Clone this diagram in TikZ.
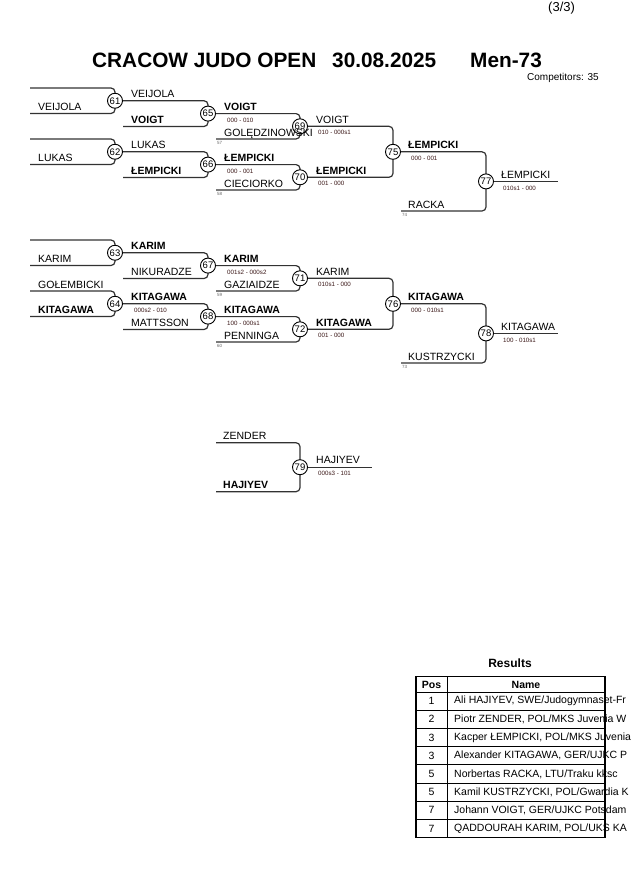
\documentclass[tikz,border=0pt]{standalone}
\usepackage{fontspec}
\setmainfont{Liberation Sans}
\usetikzlibrary{backgrounds}
\definecolor{scorecol}{RGB}{60,25,25}
\definecolor{linecol}{RGB}{50,50,50}
\begin{document}
\begin{tikzpicture}[x=1pt,y=-1pt,
  bk/.style={draw=linecol, line width=1.2pt, rounded corners=4pt},
  mc/.style={circle, draw=black, line width=0.9pt, fill=white, minimum size=15pt, inner sep=0pt, font=\fontsize{9.5}{10}\selectfont},
  nmn/.style={anchor=base west, inner sep=0pt, font=\fontsize{10.5}{12}\selectfont},
  nmb/.style={anchor=base west, inner sep=0pt, font=\fontsize{10.5}{12}\selectfont\bfseries},
  sc/.style={anchor=west, inner sep=0pt, font=\fontsize{6.2}{7}\selectfont, text=scorecol},
  rf/.style={anchor=north west, inner sep=0pt, font=\fontsize{4.5}{5}\selectfont, text=black!60},
  ttl/.style={anchor=base west, inner sep=0pt, font=\fontsize{20.8}{24}\selectfont\bfseries},
  tcell/.style={inner sep=0pt, font=\fontsize{10.5}{12}\selectfont},
  thead/.style={inner sep=0pt, font=\fontsize{10.5}{12}\selectfont\bfseries},
  tline/.style={draw=black, line width=0.8pt},
  tborder/.style={draw=black, line width=1.6pt}
]
\useasboundingbox (0,0) rectangle (630,891);

% ---------- header ----------
\node[anchor=base west, inner sep=0pt, font=\fontsize{13}{15}\selectfont] (page) at (548,12) {(3/3)};
\node[ttl] (title) at (92,67) {CRACOW JUDO OPEN};
\node[ttl] (date) at (332,67) {30.08.2025};
\node[ttl] (cat) at (470,67) {Men-73};
\node[anchor=base west, inner sep=0pt, font=\fontsize{10}{12}\selectfont] (comp) at (527,81) {Competitors: 35};

% ---------- bracket 1 ----------
\coordinate (t61) at (30,88);
\coordinate (b61) at (30,113.5);
\node[mc] (m61) at (115,100.75) {61};
\coordinate (t62) at (30,139);
\coordinate (b62) at (30,164.5);
\node[mc] (m62) at (115,151.75) {62};
\coordinate (b65) at (123,126.5);
\node[mc] (m65) at (208,113.6) {65};
\coordinate (b66) at (123,177.5);
\node[mc] (m66) at (208,164.6) {66};
\coordinate (b69) at (216,139);
\node[mc] (m69) at (300,126.3) {69};
\coordinate (b70) at (216,190);
\node[mc] (m70) at (300,177.3) {70};
\node[mc] (m75) at (393,151.8) {75};
\coordinate (b77) at (401,211);
\node[mc] (m77) at (486,181.4) {77};
\coordinate (f77) at (558,181.4);

\begin{pgfonlayer}{background}
\draw[bk] (t61) -| (m61.center) |- (b61);
\draw[bk] (t62) -| (m62.center) |- (b62);
\draw[bk] (m61.east) -| (m65.center) |- (b65);
\draw[bk] (m62.east) -| (m66.center) |- (b66);
\draw[bk] (m65.east) -| (m69.center) |- (b69);
\draw[bk] (m66.east) -| (m70.center) |- (b70);
\draw[bk] (m69.east) -| (m75.center) |- (m70.east);
\draw[bk] (m75.east) -| (m77.center) |- (b77);
\draw[bk] (m77.east) -- (f77);
\end{pgfonlayer}

\node[nmn] (a1) at (38,110.5) {VEIJOLA};
\node[nmn] (a2) at (38,161.5) {LUKAS};
\node[nmn] (a3) at (131,97.75) {VEIJOLA};
\node[nmb] (a4) at (131,123.5) {VOIGT};
\node[nmn] (a5) at (131,148.75) {LUKAS};
\node[nmb] (a6) at (131,174.5) {ŁEMPICKI};
\node[nmb] (a7) at (224,110.6) {VOIGT};
\node[sc] (s7) at (227,120.1) {000 - 010};
\node[nmn] (a8) at (224,136) {GOLĘDZINOWSKI};
\node[rf] (r8) at (217,141) {57};
\node[nmb] (a9) at (224,161.6) {ŁEMPICKI};
\node[sc] (s9) at (227,171.1) {000 - 001};
\node[nmn] (a10) at (224,187) {CIECIORKO};
\node[rf] (r10) at (217,192) {58};
\node[nmn] (a11) at (316,123.3) {VOIGT};
\node[sc] (s11) at (318,132.8) {010 - 000s1};
\node[nmb] (a12) at (316,174.3) {ŁEMPICKI};
\node[sc] (s12) at (318,183.8) {001 - 000};
\node[nmb] (a13) at (408,148.8) {ŁEMPICKI};
\node[sc] (s13) at (411,158.3) {000 - 001};
\node[nmn] (a14) at (408,208) {RACKA};
\node[rf] (r14) at (402,213) {74};
\node[nmn] (a15) at (501,178.4) {ŁEMPICKI};
\node[sc] (s15) at (503,187.9) {010s1 - 000};

% ---------- bracket 2 ----------
\coordinate (t63) at (30,240);
\coordinate (b63) at (30,265.5);
\node[mc] (m63) at (115,252.75) {63};
\coordinate (t64) at (30,291);
\coordinate (b64) at (30,316.5);
\node[mc] (m64) at (115,303.75) {64};
\coordinate (b67) at (123,278.5);
\node[mc] (m67) at (208,265.6) {67};
\coordinate (b68) at (123,329.5);
\node[mc] (m68) at (208,316.6) {68};
\coordinate (b71) at (216,291);
\node[mc] (m71) at (300,278.3) {71};
\coordinate (b72) at (216,342);
\node[mc] (m72) at (300,329.3) {72};
\node[mc] (m76) at (393,303.8) {76};
\coordinate (b78) at (401,363);
\node[mc] (m78) at (486,333.4) {78};
\coordinate (f78) at (558,333.4);

\begin{pgfonlayer}{background}
\draw[bk] (t63) -| (m63.center) |- (b63);
\draw[bk] (t64) -| (m64.center) |- (b64);
\draw[bk] (m63.east) -| (m67.center) |- (b67);
\draw[bk] (m64.east) -| (m68.center) |- (b68);
\draw[bk] (m67.east) -| (m71.center) |- (b71);
\draw[bk] (m68.east) -| (m72.center) |- (b72);
\draw[bk] (m71.east) -| (m76.center) |- (m72.east);
\draw[bk] (m76.east) -| (m78.center) |- (b78);
\draw[bk] (m78.east) -- (f78);
\end{pgfonlayer}

\node[nmn] (c1) at (38,262.5) {KARIM};
\node[nmn] (c2) at (38,288) {GOŁEMBICKI};
\node[nmb] (c3) at (38,313.5) {KITAGAWA};
\node[nmb] (c4) at (131,249.75) {KARIM};
\node[nmn] (c5) at (131,275.5) {NIKURADZE};
\node[nmb] (c6) at (131,300.75) {KITAGAWA};
\node[sc] (t6) at (134,310.25) {000s2 - 010};
\node[nmn] (c7) at (131,326.5) {MATTSSON};
\node[nmb] (c8) at (224,262.6) {KARIM};
\node[sc] (t8) at (227,272.1) {001s2 - 000s2};
\node[nmn] (c9) at (224,288) {GAZIAIDZE};
\node[rf] (q9) at (217,293) {59};
\node[nmb] (c10) at (224,313.6) {KITAGAWA};
\node[sc] (t10) at (227,323.1) {100 - 000s1};
\node[nmn] (c11) at (224,339) {PENNINGA};
\node[rf] (q11) at (217,344) {60};
\node[nmn] (c12) at (316,275.3) {KARIM};
\node[sc] (t12) at (318,284.8) {010s1 - 000};
\node[nmb] (c13) at (316,326.3) {KITAGAWA};
\node[sc] (t13) at (318,335.8) {001 - 000};
\node[nmb] (c14) at (408,300.8) {KITAGAWA};
\node[sc] (t14) at (411,310.3) {000 - 010s1};
\node[nmn] (c15) at (408,360) {KUSTRZYCKI};
\node[rf] (q15) at (402,365) {73};
\node[nmn] (c16) at (501,330.4) {KITAGAWA};
\node[sc] (t16) at (503,339.9) {100 - 010s1};

% ---------- bracket 3 ----------
\coordinate (t79) at (216,442.7);
\coordinate (b79) at (216,491.7);
\node[mc] (m79) at (300,467.2) {79};
\coordinate (f79) at (372,467.2);
\begin{pgfonlayer}{background}
\draw[bk] (t79) -| (m79.center) |- (b79);
\draw[bk] (m79.east) -- (f79);
\end{pgfonlayer}
\node[nmn] (e1) at (223,439.2) {ZENDER};
\node[nmb] (e2) at (223,488.2) {HAJIYEV};
\node[nmn] (e3) at (316,463.7) {HAJIYEV};
\node[sc] (u3) at (318,473.2) {000s3 - 101};

% ---------- results table ----------
\node[inner sep=0pt, font=\fontsize{12}{14}\selectfont\bfseries] (restitle) at (510,663) {Results};
\begin{scope}
\clip (400,640) rectangle (630,891);
\node[thead] (hpos) at (431.5,684.5) {Pos};
\node[thead] (hname) at (526,684.5) {Name};
\foreach \i/\p/\n in {0/1/{Ali HAJIYEV, SWE/Judogymnaset-Fr},
                      1/2/{Piotr ZENDER, POL/MKS Juvenia W},
                      2/3/{Kacper ŁEMPICKI, POL/MKS Juvenia},
                      3/3/{Alexander KITAGAWA, GER/UJKC P},
                      4/5/{Norbertas RACKA, LTU/Traku kksc},
                      5/5/{Kamil KUSTRZYCKI, POL/Gwardia K},
                      6/7/{Johann VOIGT, GER/UJKC Potsdam},
                      7/7/{QADDOURAH KARIM, POL/UKS KA}}{
  \node[tcell] (pos\i) at (431.5,{701.1+18.2*\i}) {\p};
  \node[tcell, anchor=west] (nam\i) at (454,{701.1+18.2*\i}) {\n};
}
\end{scope}
\foreach \k in {1,...,7}{
  \draw[tline] (416,{692+18.2*\k}) -- (605,{692+18.2*\k});
}
\draw[tline] (416,692) -- (605,692);
\draw[tline] (447,676.5) -- (447,837.5);
\draw[tborder] (416,676.5) rectangle (605,837.5);
\end{tikzpicture}
\end{document}
